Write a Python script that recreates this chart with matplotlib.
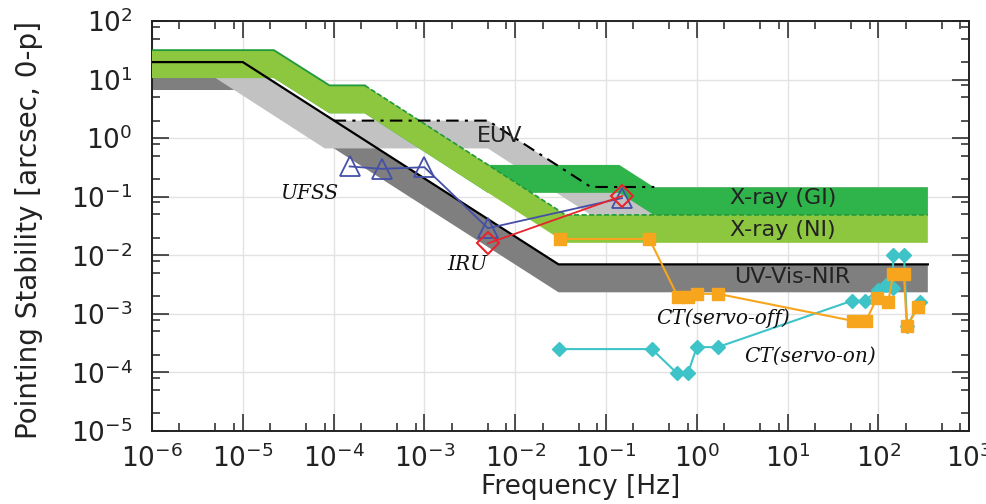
import matplotlib
matplotlib.use("Agg")
import matplotlib.pyplot as plt
from matplotlib.ticker import LogLocator, NullFormatter
import numpy as np

# ---------------- data ----------------
# X-ray bands: upper edge vertices; lower edge = upper / band_ratio
gi_freq = [1e-6, 2.2e-5, 9e-5, 2.2e-4, 5e-3, 0.14, 0.34, 350]
gi_upper = [32, 32, 8, 8, 0.35, 0.35, 0.145, 0.145]
ni_freq = [1e-6, 2.2e-5, 9e-5, 2.2e-4, 0.036, 350]
ni_upper = [32, 32, 8, 8, 0.049, 0.049]
band_ratio = 3.0
# EUV band (upper and lower edges given separately)
euv_freq = [1e-6, 1e-5, 1e-4, 5e-3, 0.068, 0.34, 350]
euv_upper = [20, 20, 2, 2, 0.147, 0.147, 0.147]
euv_low_freq = [1e-6, 5e-6, 8e-5, 5e-3, 0.068, 350]
euv_lower = [10.7, 10.7, 0.67, 0.67, 0.049, 0.049]
# UV-Vis-NIR band
uv_freq = [1e-6, 1e-5, 0.03, 350]
uv_upper = [20, 20, 0.007, 0.007]

# sensor / measurement data
ufss_freq = [1.5e-4, 3.4e-4, 1.0e-3, 5.0e-3, 0.15]
ufss_val = [0.33, 0.30, 0.32, 0.029, 0.095]
iru_freq = [5.0e-3, 0.15]
iru_val = [0.016, 0.103]
ct_off_freq = [0.031, 0.30, 0.62, 0.80, 1.0, 1.7, 52, 73, 96, 128, 146, 191, 205, 275]
ct_off_val = [0.019, 0.019, 1.95e-3, 1.95e-3, 2.2e-3, 2.2e-3, 7.6e-4, 7.6e-4,
              1.85e-3, 1.62e-3, 4.75e-3, 4.75e-3, 6.1e-4, 1.3e-3]
ct_on_freq = [0.030, 0.32, 0.60, 0.80, 1.0, 1.7, 51, 71, 100, 121, 145, 145, 191, 207, 287]
ct_on_val = [2.5e-4, 2.5e-4, 9.8e-5, 9.8e-5, 2.7e-4, 2.7e-4, 1.67e-3, 1.67e-3,
             2.6e-3, 3.1e-3, 2.8e-3, 1.0e-2, 1.0e-2, 6.2e-4, 1.6e-3]

# ---------------- style ----------------
C_GI = "#2fb34b"
C_GI_EDGE = "#1f9a3c"
C_NI = "#8dc63f"
C_EUV = "#c2c2c2"
C_UV = "#7f7f7f"
C_UFSS = "#4450a8"
C_IRU = "#e8242c"
C_OFF = "#f7a51c"
C_ON = "#3ec3c9"
C_TXT = "#222222"

plt.rcParams["font.family"] = ["DejaVu Sans"]
plt.rcParams["mathtext.fontset"] = "dejavusans"

fig = plt.figure(figsize=(9.87, 5.04), dpi=100)
ax = fig.add_axes([0.154, 0.145, 0.828, 0.813])
ax.set_xscale("log")
ax.set_yscale("log")
ax.set_xlim(1e-6, 1e3)
ax.set_ylim(1e-5, 1e2)


def fill_band(f_up, up, f_lo, lo, color, z):
    xs = np.concatenate([np.asarray(f_up), np.asarray(f_lo)[::-1]])
    ys = np.concatenate([np.asarray(up), np.asarray(lo)[::-1]])
    ax.fill(xs, ys, facecolor=color, edgecolor="none", linewidth=0, zorder=z)


uv_lower = np.asarray(uv_upper) / band_ratio
gi_lower = np.asarray(gi_upper) / band_ratio
ni_lower = np.asarray(ni_upper) / band_ratio

fill_band(uv_freq, uv_upper, uv_freq, uv_lower, C_UV, 2)
fill_band(euv_freq, euv_upper, euv_low_freq, euv_lower, C_EUV, 3)
fill_band(gi_freq, gi_upper, gi_freq, gi_lower, C_GI, 4)
fill_band(ni_freq, ni_upper, ni_freq, ni_lower, C_NI, 5)

# requirement lines
ax.plot(uv_freq, uv_upper, color="black", lw=1.6, zorder=7)
ax.plot(euv_freq[2:6], euv_upper[2:6], color="black", lw=1.5,
        dashes=(6, 3, 1.5, 3), zorder=7)
ax.plot(gi_freq[:4], gi_upper[:4], color=C_GI_EDGE, lw=1.3, zorder=6)
ax.plot(ni_freq[3:], ni_upper[3:], color=C_GI_EDGE, lw=1.2, dashes=(3, 1.5), zorder=6)

# measurements
ax.plot(ct_on_freq, ct_on_val, color=C_ON, lw=1.5, marker="D", ms=7.5,
        mfc=C_ON, mec=C_ON, zorder=8)
ax.plot(ct_off_freq, ct_off_val, color=C_OFF, lw=1.5, marker="s", ms=8,
        mfc=C_OFF, mec=C_OFF, zorder=9)
ax.plot(ufss_freq, ufss_val, color=C_UFSS, lw=1.3, marker="^", ms=15,
        mfc="none", mec=C_UFSS, mew=1.3, zorder=10)
ax.plot(iru_freq, iru_val, color=C_IRU, lw=1.3, marker="D", ms=11,
        mfc="none", mec=C_IRU, mew=1.5, zorder=11)

# labels on bands
sans = dict(fontsize=16, color=C_TXT, ha="center", va="center", zorder=12)
ax.text(6.8e-3, 1.09, "EUV", **sans)
ax.text(8.9, 0.095, "X-ray (GI)", **sans)
ax.text(8.9, 0.027, "X-ray (NI)", **sans)
ax.text(11.2, 4.3e-3, "UV-Vis-NIR", **sans)

serif = dict(fontsize=14.5, family="DejaVu Serif", style="italic",
             color="#111111", ha="center", va="center", zorder=12)
ax.text(5.4e-5, 0.116, "UFSS", **serif)
ax.text(3.0e-3, 7.1e-3, "IRU", **serif)
ax.text(1.95, 8.5e-4, "CT(servo-off)", **serif)
ax.text(17.7, 1.92e-4, "CT(servo-on)", **serif)

# axes styling
ax.xaxis.set_major_locator(LogLocator(base=10, numticks=20))
ax.yaxis.set_major_locator(LogLocator(base=10, numticks=20))
ax.xaxis.set_minor_locator(LogLocator(base=10, subs=(2, 5, 8), numticks=20))
ax.yaxis.set_minor_locator(LogLocator(base=10, subs=(2, 5, 8), numticks=20))
ax.xaxis.set_minor_formatter(NullFormatter())
ax.yaxis.set_minor_formatter(NullFormatter())
ax.tick_params(which="both", direction="in", top=True, right=True,
               colors=C_TXT, width=1.1, labelsize=19, labelcolor=C_TXT)
ax.tick_params(which="major", length=12)
ax.tick_params(which="minor", length=6)
ax.tick_params(axis="x", pad=10)
ax.tick_params(axis="y", pad=14)
for s in ax.spines.values():
    s.set_linewidth(1.4)
    s.set_color(C_TXT)
ax.grid(True, which="major", color="#e2e2e2", lw=1.0, zorder=0)
ax.set_axisbelow(True)

ax.set_xlabel("Frequency [Hz]", fontsize=19, color=C_TXT)
ax.set_ylabel("Pointing Stability [arcsec, 0-p]", fontsize=20, color=C_TXT)
ax.xaxis.set_label_coords(0.525, -0.105)
ax.yaxis.set_label_coords(-0.133, 0.49)

fig.savefig("out.png", dpi=100)
